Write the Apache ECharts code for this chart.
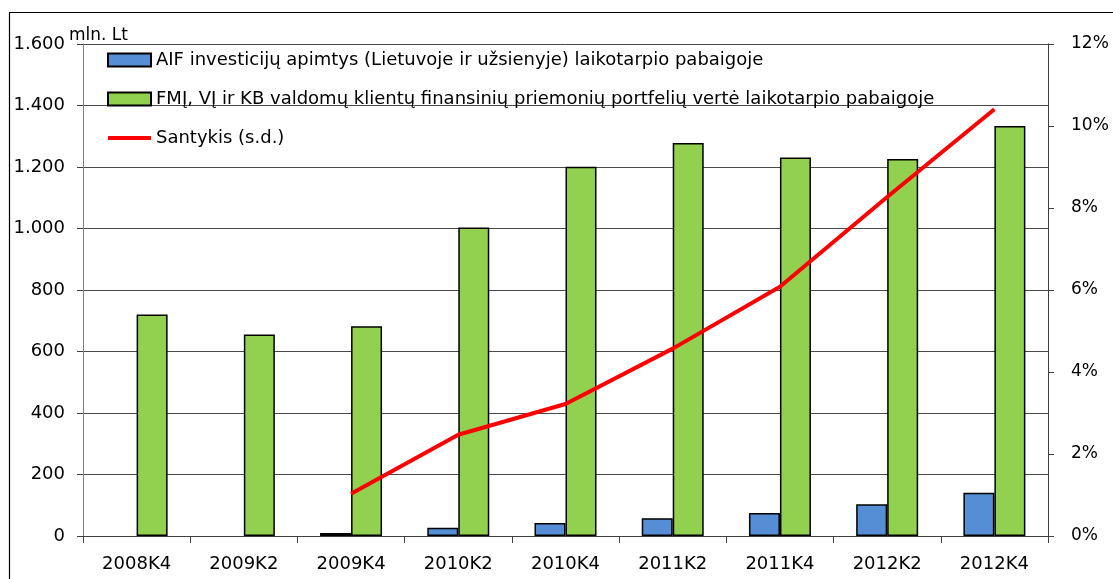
<!DOCTYPE html>
<html>
<head>
<meta charset="utf-8">
<script src="https://cdn.jsdelivr.net/npm/echarts@6/dist/echarts.min.js"></script>
<style>
html,body{margin:0;padding:0;background:#fff;}
#c{width:1113px;height:579px;}
</style>
</head>
<body>
<div id="c"></div>
<script>
const categories = ['2008K4','2009K2','2009K4','2010K2','2010K4','2011K2','2011K4','2012K2','2012K4'];
const aifValues = [null, null, 10, 27, 42, 58, 75, 103, 141];
const portfolioValues = [720, 655, 682, 1003, 1201, 1278, 1231, 1226, 1333];
const ratioValues = [null, null, 1.03, 2.47, 3.22, 4.57, 6.08, 8.27, 10.41];
const seriesNames = [
  'AIF investicijų apimtys (Lietuvoje ir užsienyje) laikotarpio pabaigoje',
  'FMĮ, VĮ ir KB valdomų klientų finansinių priemonių portfelių vertė laikotarpio pabaigoje',
  'Santykis (s.d.)'
];
const unitLabel = 'mln. Lt';

const FONT = '"DejaVu Sans", sans-serif';
const chart = echarts.init(document.getElementById('c'), null, {renderer:'canvas'});
const fmtThousands = v => String(v).replace(/\B(?=(\d{3})+(?!\d))/g, '.');

chart.setOption({
  animation: false,
  textStyle: {fontFamily: FONT},
  grid: {left: 83, right: 65, top: 44, bottom: 43, containLabel: false},
  graphic: [
    {type:'polyline', shape:{points:[[9.5,700],[9.5,12.5],[1200,12.5]]}, style:{fill:'none', stroke:'#000', lineWidth:1.2}, silent:true},
    {type:'text', left: 69, top: 27, style:{text: unitLabel, font: '17px ' + FONT, fill:'#000'}}
  ],
  legend: {
    orient: 'vertical',
    left: 101,
    top: 45,
    itemWidth: 43,
    itemHeight: 13,
    itemGap: 19,
    textStyle: {fontSize: 18, lineHeight: 20, color: '#000', fontFamily: FONT},
    data: [
      {name: seriesNames[0], icon: 'rect'},
      {name: seriesNames[1], icon: 'rect'},
      {name: seriesNames[2], itemStyle: {opacity: 0}, lineStyle: {width: 4}}
    ]
  },
  xAxis: {
    type: 'category',
    data: categories,
    axisLine: {lineStyle: {color: '#404040', width: 1}},
    axisTick: {show: true, length: 7, inside: false, lineStyle: {color: '#404040'}},
    axisLabel: {fontSize: 18, color: '#000', margin: 19, fontFamily: FONT}
  },
  yAxis: [
    {
      type: 'value', min: 0, max: 1600, interval: 200,
      axisLine: {show: true, lineStyle: {color: '#808080'}},
      axisTick: {show: true, length: 6, lineStyle: {color: '#404040'}},
      splitLine: {lineStyle: {color: '#4a4a4a', width: 1}},
      axisLabel: {fontSize: 18, color: '#000', margin: 18, fontFamily: FONT, formatter: fmtThousands}
    },
    {
      type: 'value', min: 0, max: 12, interval: 2,
      axisLine: {show: true, lineStyle: {color: '#404040'}},
      axisTick: {show: true, length: 6, lineStyle: {color: '#404040'}},
      splitLine: {show: false},
      axisLabel: {fontSize: 17, color: '#000', margin: 23, fontFamily: FONT, formatter: v => v + '%'}
    }
  ],
  series: [
    {
      name: seriesNames[0], type: 'bar', yAxisIndex: 0, data: aifValues,
      barWidth: 31, barGap: '0%',
      itemStyle: {color: '#558ED5', borderColor: '#000', borderWidth: 1.5}
    },
    {
      name: seriesNames[1], type: 'bar', yAxisIndex: 0, data: portfolioValues,
      barWidth: 31, barGap: '0%',
      itemStyle: {color: '#92D050', borderColor: '#000', borderWidth: 1.5}
    },
    {
      name: seriesNames[2], type: 'line', yAxisIndex: 1, data: ratioValues,
      showSymbol: false, symbol: 'none', connectNulls: false,
      lineStyle: {color: '#FF0000', width: 4},
      itemStyle: {color: '#FF0000'}
    }
  ]
});
</script>
</body>
</html>
